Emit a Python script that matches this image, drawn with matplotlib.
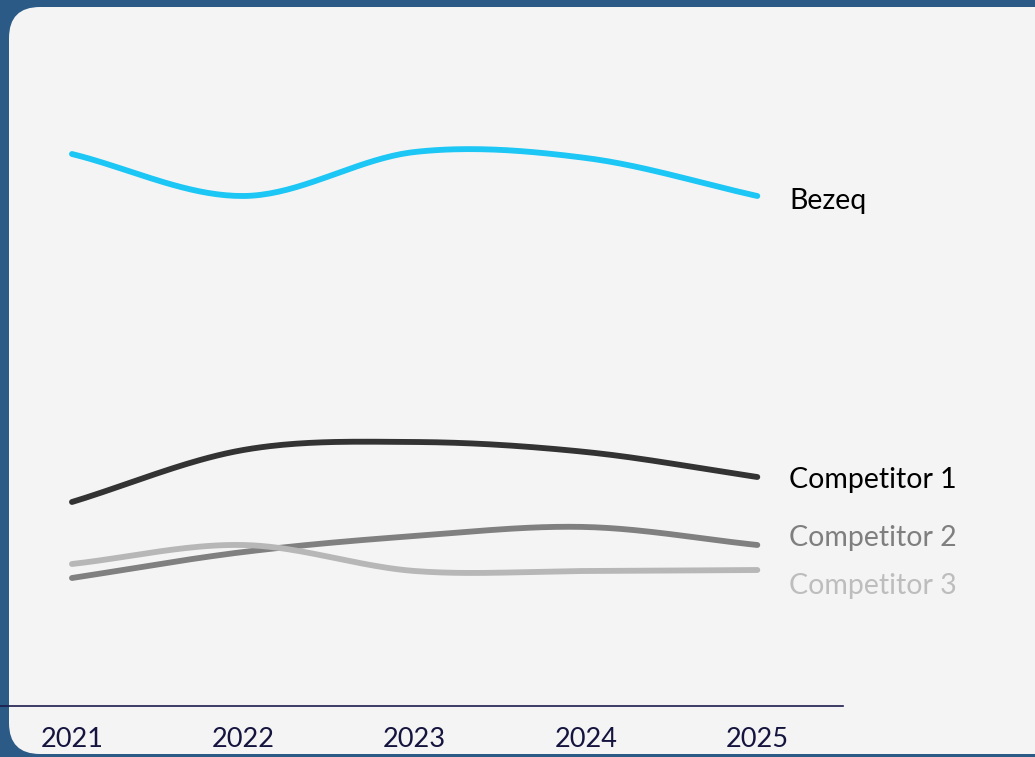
import numpy as np
import matplotlib.pyplot as plt
from matplotlib.patches import FancyBboxPatch

plt.rcParams['font.family'] = ['Lato', 'DejaVu Sans']

years = [2021, 2022, 2023, 2024, 2025]
bezeq = [110.4, 102.0, 110.8, 109.6, 102.0]
comp1 = [40.8, 51.2, 52.8, 50.8, 45.8]
comp2 = [25.6, 30.8, 34.0, 35.8, 32.2]
comp3 = [28.4, 32.2, 27.0, 27.0, 27.2]

names = ['Bezeq', 'Competitor 1', 'Competitor 2', 'Competitor 3']
line_colors = ['#1cc6f5', '#333333', '#808080', '#b7b7b7']
text_colors = ['#000000', '#000000', '#7f7f7f', '#bdbdbd']
label_y = [101.0, 45.2, 33.6, 24.0]


def smooth(x, y, n=40):
    # catmull-rom, like excel's "smoothed line"
    x = np.asarray(x, float)
    y = np.asarray(y, float)
    px = np.concatenate([[2 * x[0] - x[1]], x, [2 * x[-1] - x[-2]]])
    py = np.concatenate([[2 * y[0] - y[1]], y, [2 * y[-1] - y[-2]]])
    xs, ys = [], []
    t = np.linspace(0, 1, n)
    for i in range(1, len(px) - 2):
        for p, out in ((px, xs), (py, ys)):
            p0, p1, p2, p3 = p[i - 1], p[i], p[i + 1], p[i + 2]
            out.append(0.5 * (2 * p1 + (-p0 + p2) * t
                              + (2 * p0 - 5 * p1 + 4 * p2 - p3) * t ** 2
                              + (-p0 + 3 * p1 - 3 * p2 + p3) * t ** 3))
    return np.concatenate(xs), np.concatenate(ys)


fig = plt.figure(figsize=(10.35, 7.57), dpi=100, facecolor='#2b5a87')
W, H = 1035, 757
panel = FancyBboxPatch((9 / W, 3 / H), 1.2, (750 - 3) / H,
                       boxstyle='round,pad=0,rounding_size=0.03',
                       transform=fig.transFigure, facecolor='#f4f4f4',
                       edgecolor='none', mutation_aspect=W / H, zorder=-1)
fig.patches.append(panel)

ax = fig.add_axes([0, 51 / H, 843 / W, 706 / H])
ax.set_facecolor('none')
ax.set_xlim(2020.58, 2025.50)
ax.set_ylim(0, 141.2)

for name, ys, lc, tc, ly in zip(names, [bezeq, comp1, comp2, comp3],
                                line_colors, text_colors, label_y):
    sx, sy = smooth(years, ys)
    ax.plot(sx, sy, color=lc, lw=4.2, solid_capstyle='round')
    ax.annotate(name, xy=(years[-1], ly), xytext=(23, 0),
                textcoords='offset points', va='center', ha='left',
                fontsize=20.5, color=tc, annotation_clip=False)

for s in ['top', 'right', 'left']:
    ax.spines[s].set_visible(False)
ax.spines['bottom'].set_color('#1b1b4b')
ax.spines['bottom'].set_linewidth(1.2)
ax.set_yticks([])
ax.set_xticks(years)
ax.set_xticklabels([str(y) for y in years], fontsize=19.5, color='#14143f')
ax.tick_params(axis='x', length=0, pad=15)

fig.savefig('out.png', dpi=100, facecolor=fig.get_facecolor())
